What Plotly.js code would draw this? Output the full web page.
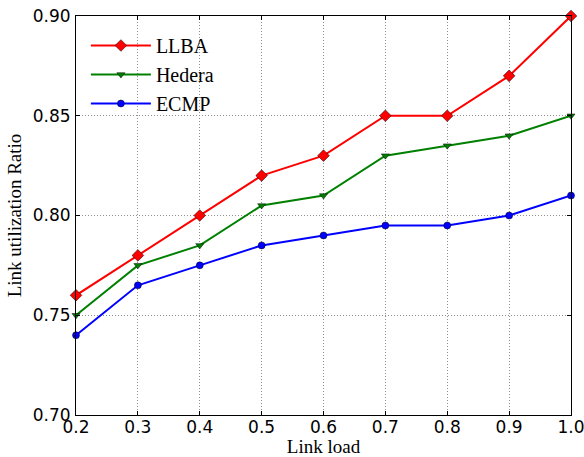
<!DOCTYPE html>
<html><head><meta charset="utf-8">
<script src="https://cdn.plot.ly/plotly-3.0.1.min.js"></script>
<style>body{margin:0;background:#fff}#c{width:584px;height:457px}</style>
</head><body><div id="c"></div>
<script>
const linkLoad = [0.2, 0.3, 0.4, 0.5, 0.6, 0.7, 0.8, 0.9, 1.0];
const llba   = [0.76, 0.78, 0.80, 0.82, 0.83, 0.85, 0.85, 0.87, 0.90];
const hedera = [0.75, 0.775, 0.785, 0.805, 0.81, 0.83, 0.835, 0.84, 0.85];
const ecmp   = [0.74, 0.765, 0.775, 0.785, 0.79, 0.795, 0.795, 0.80, 0.81];
const xTicks = [0.2, 0.3, 0.4, 0.5, 0.6, 0.7, 0.8, 0.9, 1.0];
const xTickText = ['0.2','0.3','0.4','0.5','0.6','0.7','0.8','0.9','1.0'];
const yTicks = [0.70, 0.75, 0.80, 0.85, 0.90];
const yTickText = ['0.70','0.75','0.80','0.85','0.90'];

function tr(name, y, color, symbol, size){
  return {x: linkLoad, y: y, name: name, type:'scatter', mode:'lines+markers',
    line:{color: color, width:2},
    marker:{symbol: symbol, size: size, color: color, line:{color:'#000', width:0.5}},
    cliponaxis:false};
}
const data = [
  tr('LLBA', llba, '#ff0000', 'diamond', 9),
  tr('Hedera', hedera, '#008000', 'triangle-down', 7),
  tr('ECMP', ecmp, '#0000ff', 'circle', 7)
];
const axBase = {showline:true, linecolor:'#000', linewidth:1, mirror:'allticks',
  ticks:'inside', ticklen:4, tickcolor:'#000', zeroline:false,
  showgrid:true, gridcolor:'#909090', griddash:'1px,2px', gridwidth:1,
  ticklabeloverflow:'allow', automargin:false,
  tickfont:{family:'DejaVu Sans', size:17, color:'#000'}};
const layout = {
  width:584, height:457, paper_bgcolor:'#fff', plot_bgcolor:'#fff',
  margin:{l:76, r:13, t:16, b:42},
  showlegend:true,
  legend:{x:0.02, y:0.975, xanchor:'left', yanchor:'top', bgcolor:'rgba(0,0,0,0)',
    font:{family:'Liberation Serif', size:20, color:'#000'}, itemwidth:60, tracegroupgap:4},
  xaxis:Object.assign({}, axBase, {range:[0.2,1.0], tickvals:xTicks, ticktext:xTickText,
    ticklabelstandoff:-3,
    title:{text:'Link load', font:{family:'Liberation Serif', size:19, color:'#000'}, standoff:2}}),
  yaxis:Object.assign({}, axBase, {range:[0.70,0.90], tickvals:yTicks, ticktext:yTickText,
    ticklabelstandoff:1,
    title:{text:'Link utilization Ratio', font:{family:'Liberation Serif', size:19, color:'#000'}, standoff:6}})
};
Plotly.newPlot('c', data, layout, {displayModeBar:false});
</script></body></html>
